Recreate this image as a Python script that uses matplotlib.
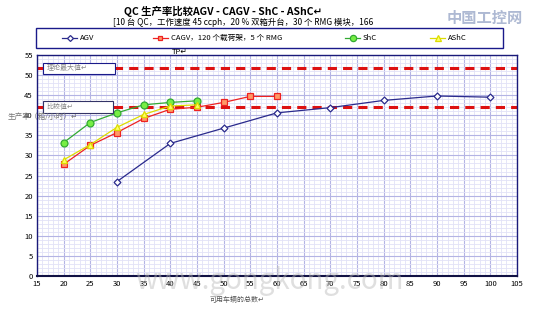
import matplotlib.pyplot as plt
from matplotlib.lines import Line2D
from matplotlib.patches import Rectangle
from matplotlib.ticker import MultipleLocator

plt.rcParams['font.family'] = ['Noto Sans CJK SC', 'DejaVu Sans']

# data
agv_x = [30, 40, 50, 60, 70, 80, 90, 100]
agv_y = [23.5, 33.0, 36.8, 40.6, 41.9, 43.7, 44.8, 44.5]
cagv_x = [20, 25, 30, 35, 40, 45, 50, 55, 60]
cagv_y = [27.8, 32.5, 35.7, 39.2, 41.5, 42.0, 43.2, 44.7, 44.7]
shc_x = [20, 25, 30, 35, 40, 45]
shc_y = [33.2, 38.2, 40.6, 42.6, 43.2, 43.6]
ashc_x = [20, 25, 30, 35, 40, 45]
ashc_y = [28.9, 32.7, 37.0, 40.2, 42.3, 42.6]
max_value = 51.8
compare_value = 42.1

series = [
    ('AGV', agv_x, agv_y, '#2a2a8c', 'D', 'white', 3.5),
    ('CAGV，120 个载荷架，5 个 RMG', cagv_x, cagv_y, '#ee2222', 's', '#ff9966', 4),
    ('ShC', shc_x, shc_y, '#33aa33', 'o', '#77ee44', 5),
    ('AShC', ashc_x, ashc_y, '#dddd00', '^', '#ffff66', 5),
]

fig = plt.figure(figsize=(5.39, 3.09), dpi=100)
ax = fig.add_axes([0.0686, 0.1068, 0.8905, 0.7152])

ax.set_xlim(15, 105)
ax.set_ylim(0, 55)
ax.xaxis.set_major_locator(MultipleLocator(5))
ax.yaxis.set_major_locator(MultipleLocator(5))
ax.xaxis.set_minor_locator(MultipleLocator(1))
ax.yaxis.set_minor_locator(MultipleLocator(1))
ax.grid(which='minor', color='#e2e2f7', lw=0.6)
ax.grid(which='major', color='#b4b4e4', lw=0.8)
ax.set_axisbelow(True)
ax.tick_params(which='both', length=0)
ax.tick_params(labelsize=5.5, pad=3)
for s in ax.spines.values():
    s.set_color('#1a1a7a')
    s.set_linewidth(1.0)
ax.spines['bottom'].set_color('#111144')
ax.spines['bottom'].set_linewidth(1.5)

ax.axhline(max_value, color='#dd1111', lw=2.2, ls=(0, (3, 2)))
ax.axhline(compare_value, color='#dd1111', lw=2.2, ls=(0, (3, 2)))

for name, xs, ys, c, m, fc, ms in series:
    ax.plot(xs, ys, color=c, lw=0.9, marker=m, ms=ms, mfc=fc, mec=c, mew=0.9)

# labelled boxes for the reference lines
ax.add_patch(Rectangle((0.0125, 0.914), 0.15, 0.05, transform=ax.transAxes,
                       fc='white', ec='#1a1a8a', lw=0.8, zorder=5))
ax.text(0.02, 0.939, '理论最大值↵', transform=ax.transAxes, fontsize=5,
        color='#888888', va='center', zorder=6)
ax.add_patch(Rectangle((0.0125, 0.738), 0.146, 0.054, transform=ax.transAxes,
                       fc='white', ec='#333366', lw=0.8, zorder=5))
ax.text(0.02, 0.765, '比较值↵', transform=ax.transAxes, fontsize=5,
        color='#888888', va='center', zorder=6)

# axis titles
fig.text(8 / 539, 1 - 117 / 309, '生产率（箱/小时）↵', fontsize=5.5,
         color='#777777', va='center', ha='left')
fig.text(210 / 539, 1 - 300 / 309, '可用车辆的总数↵', fontsize=5,
         color='#555555', va='center', ha='left')

# titles
fig.text(223 / 539, 1 - 11 / 309, 'QC 生产率比较AGV - CAGV - ShC - AShC↵',
         fontsize=7.5, fontweight='bold', ha='center', va='center')
fig.text(113 / 539, 1 - 22 / 309,
         '[10 台 QC，工作速度 45 ccph，20 % 双箱升台，30 个 RMG 模块，166',
         fontsize=6, ha='left', va='center')
fig.text(113 / 539, 1 - 32.5 / 309, '个集装箱/小时]↵', fontsize=6,
         ha='left', va='center', zorder=1)

# legend frame and entries
fig.add_artist(Rectangle((36 / 539, 1 - 48 / 309), 467 / 539, 20 / 309,
                         transform=fig.transFigure, fc='white',
                         ec='#1a1a8a', lw=1.0, zorder=3))
legend_x = [62, 153, 345, 430]
for (name, xs, ys, c, m, fc, ms), lx in zip(series, legend_x):
    yy = 1 - 38 / 309
    fig.add_artist(Line2D([lx / 539, (lx + 15) / 539], [yy, yy], color=c,
                          lw=0.9, transform=fig.transFigure, zorder=4))
    fig.add_artist(Line2D([(lx + 7.5) / 539], [yy], marker=m, ms=ms - 0.5,
                          mfc=fc, mec=c, mew=0.9, color=c,
                          transform=fig.transFigure, zorder=4))
    fig.text((lx + 18) / 539, yy, name, fontsize=5.5, va='center',
             ha='left', zorder=5)
fig.text(172 / 539, 1 - 51.5 / 309, 'TP↵', fontsize=5.5, va='center',
         ha='left', zorder=5)

# site marks
fig.text(485 / 539, 1 - 18 / 309, '中国工控网', fontsize=11, color='#9aa8c8',
         ha='center', va='center', fontweight='bold', alpha=0.8)
fig.text(270 / 539, 1 - 281 / 309, 'www.gongkong.com', fontsize=20,
         color='#b8b8b8', ha='center', va='center', alpha=0.45, zorder=10)

fig.savefig('out.png', dpi=100)
